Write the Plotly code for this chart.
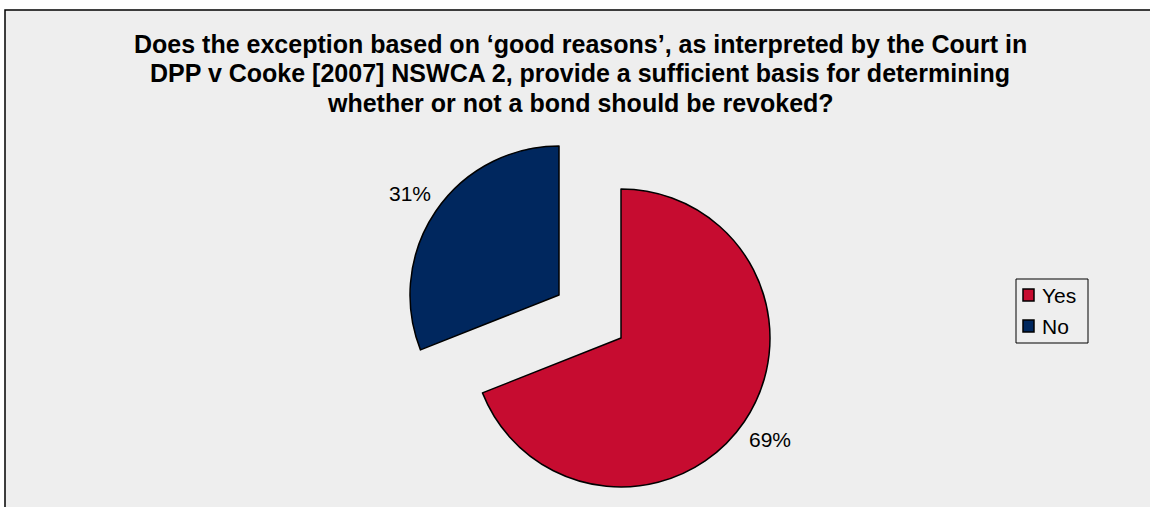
import math
import plotly.graph_objects as go

labels = ["Yes", "No"]
values = [69, 31]
colors = ["#C60C30", "#00275E"]
title_lines = [
    "Does the exception based on \u2018good reasons\u2019, as interpreted by the Court in",
    "DPP v Cooke [2007] NSWCA 2, provide a sufficient basis for determining",
    "whether or not a bond should be revoked?",
]

W, H = 1150, 507
R = 149
# slice centers (px): Yes not exploded, No exploded
centers = {"Yes": (621, 338), "No": (559, 295)}
FONT = "Liberation Sans, Arial, sans-serif"

def dom(cx, cy):
    return dict(x=[(cx - R) / W, (cx + R) / W],
                y=[(H - cy - R) / H, (H - cy + R) / H])

def px(x, y):
    return x / W, (H - y) / H

fig = go.Figure()
annotations = []
total = sum(values)
cum = 0
for i, lab in enumerate(labels):
    cx, cy = centers[lab]
    fill = ["rgba(0,0,0,0)"] * len(labels)
    fill[i] = colors[i]
    lw = [0] * len(labels)
    lw[i] = 1.5
    fig.add_trace(go.Pie(
        labels=labels, values=values, sort=False, direction="clockwise",
        rotation=0, domain=dom(cx, cy),
        marker=dict(colors=fill, line=dict(color="black", width=lw)),
        textinfo="none", showlegend=False, hoverinfo="label+percent",
        automargin=False,
    ))
    # percentage label outside the slice, along its mid angle
    mid = 2 * math.pi * (cum + values[i] / 2) / total
    cum += values[i]
    lx = cx + 1.21 * R * math.sin(mid)
    ly = cy - 1.21 * R * math.cos(mid)
    ax, ay = px(lx, ly)
    annotations.append(dict(
        text=f"{round(100 * values[i] / total)}%", x=ax, y=ay,
        xref="paper", yref="paper", xanchor="center", yanchor="middle",
        showarrow=False, font=dict(size=21, family=FONT, color="black")))

# title (one annotation per line for tight line spacing)
for j, line in enumerate(title_lines):
    tx, ty = px(580, 44 + 29.5 * j)
    annotations.append(dict(text=f"<b>{line}</b>",
                            xref="paper", yref="paper", x=tx, y=ty,
                            xanchor="center", yanchor="middle", showarrow=False,
                            font=dict(size=25, family=FONT, color="black")))

shapes = [dict(type="rect", xref="paper", yref="paper",
               x0=5 / W, x1=1.02, y0=-0.05, y1=(H - 10) / H,
               fillcolor="#EEEEEE", line=dict(color="black", width=1.5),
               layer="below")]

# legend (box, swatches, labels)
lx0, ly0 = px(1016, 279)
lx1, ly1 = px(1088, 343)
shapes.append(dict(type="rect", xref="paper", yref="paper",
                   x0=lx0, x1=lx1, y0=ly1, y1=ly0, fillcolor="#EEEEEE",
                   line=dict(color="black", width=1)))
for k, (lab, col) in enumerate(zip(labels, colors)):
    yc = 295 + 31 * k
    sx0, sy0 = px(1023, yc - 6)
    sx1, sy1 = px(1034, yc + 6)
    shapes.append(dict(type="rect", xref="paper", yref="paper",
                       x0=sx0, x1=sx1, y0=sy1, y1=sy0, fillcolor=col,
                       line=dict(color="black", width=1.5)))
    tx2, ty2 = px(1040, yc)
    annotations.append(dict(text=lab, xref="paper", yref="paper", x=tx2, y=ty2,
                            xanchor="left", yanchor="middle", showarrow=False,
                            font=dict(size=21, family=FONT, color="black")))

fig.update_layout(
    width=W, height=H,
    margin=dict(l=0, r=0, t=0, b=0),
    paper_bgcolor="#FFFFFF", plot_bgcolor="rgba(0,0,0,0)",
    font=dict(family=FONT, color="black"),
    showlegend=False,
    shapes=shapes,
    annotations=annotations,
)

fig.write_html("out.html", config={"displayModeBar": False},
               post_script="document.body.style.margin='0';document.body.style.overflow='hidden';")
